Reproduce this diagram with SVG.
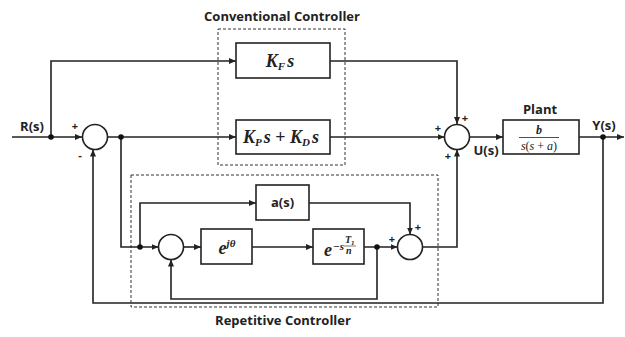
<svg xmlns="http://www.w3.org/2000/svg" width="625" height="337" viewBox="0 0 625 337">
<defs>
<marker id="ah" markerWidth="7" markerHeight="6" refX="7" refY="3" orient="auto" markerUnits="userSpaceOnUse">
<path d="M0,0 L7,3 L0,6 Z" fill="#222"/>
</marker>
<style>
.ln{fill:none;stroke:#222;stroke-width:1.6}
.bx{fill:#fff;stroke:#222;stroke-width:1.6}
.dash{fill:none;stroke:#333;stroke-width:1;stroke-dasharray:3,2}
.lbl{font-family:"Open Sans","Liberation Sans",sans-serif;font-weight:bold;font-size:13px;fill:#222}
.sg{font-family:"Open Sans","Liberation Sans",sans-serif;font-weight:bold;font-size:11px;fill:#222}
.m{font-family:"Liberation Serif","DejaVu Serif",serif;font-style:italic;font-weight:bold;fill:#222}
.mr{font-family:"Liberation Serif","DejaVu Serif",serif;fill:#222}
.dot{fill:#111}
</style>
</defs>

<g id="groups">
<rect class="dash" x="218" y="29" width="127" height="136"/>
<text class="lbl" x="282" y="21" text-anchor="middle">Conventional Controller</text>
<rect class="dash" x="131" y="175" width="307" height="132"/>
<text class="lbl" x="283" y="325" text-anchor="middle">Repetitive Controller</text>
</g>

<g id="connectors">
<polyline class="ln" points="12,137 82,137" marker-end="url(#ah)"/>
<polyline class="ln" points="51,137 51,61 236,61" marker-end="url(#ah)"/>
<polyline class="ln" points="107.5,137 236,137" marker-end="url(#ah)"/>
<polyline class="ln" points="330,61 457,61 457,124" marker-end="url(#ah)"/>
<polyline class="ln" points="330,137 444.5,137" marker-end="url(#ah)"/>
<polyline class="ln" points="469.5,137 503,137" marker-end="url(#ah)"/>
<polyline class="ln" points="579,137 624,137" marker-end="url(#ah)"/>
<polyline class="ln" points="603,137 603,303 93,303 93,149.5" marker-end="url(#ah)"/>
<polyline class="ln" points="121,137 121,247 158.5,247" marker-end="url(#ah)"/>
<polyline class="ln" points="140,247 140,203 256,203" marker-end="url(#ah)"/>
<polyline class="ln" points="183.5,247 201,247" marker-end="url(#ah)"/>
<polyline class="ln" points="252,247 313,247" marker-end="url(#ah)"/>
<polyline class="ln" points="364,247 397.5,247" marker-end="url(#ah)"/>
<polyline class="ln" points="309,203 410,203 410,234.5" marker-end="url(#ah)"/>
<polyline class="ln" points="377,247 377,299 171,299 171,259.5" marker-end="url(#ah)"/>
<polyline class="ln" points="422.5,247 457,247 457,149.5" marker-end="url(#ah)"/>
<circle class="dot" cx="51" cy="137" r="2.8"/>
<circle class="dot" cx="121" cy="137" r="2.8"/>
<circle class="dot" cx="603" cy="137" r="2.8"/>
<circle class="dot" cx="140" cy="247" r="2.8"/>
<circle class="dot" cx="377" cy="247" r="2.8"/>
</g>

<g id="sum1">
<circle class="bx" cx="95" cy="137" r="12.5"/>
<text class="sg" x="75" y="130" text-anchor="middle">+</text>
<text class="sg" x="80" y="159" text-anchor="middle">-</text>
</g>
<g id="sum2">
<circle class="bx" cx="457" cy="137" r="12.5"/>
<text class="sg" x="465" y="122" text-anchor="middle">+</text>
<text class="sg" x="438" y="132" text-anchor="middle">+</text>
<text class="sg" x="448" y="160" text-anchor="middle">+</text>
</g>
<g id="sum3">
<circle class="bx" cx="410" cy="247" r="12.5"/>
<text class="sg" x="392" y="243" text-anchor="middle">+</text>
<text class="sg" x="418" y="231" text-anchor="middle">+</text>
</g>
<g id="sum4">
<circle class="bx" cx="171" cy="247" r="12.5"/>
</g>

<g id="kf">
<rect class="bx" x="236" y="43" width="94" height="35"/>
<text class="m" x="280" y="67" text-anchor="middle" font-size="18">K<tspan font-size="11" dy="3">F</tspan><tspan dy="-3" dx="2">s</tspan></text>
</g>
<g id="kpkd">
<rect class="bx" x="236" y="120" width="94" height="34"/>
<text class="m" x="281" y="143" text-anchor="middle" font-size="18">K<tspan font-size="11" dy="3">P</tspan><tspan dy="-3" dx="2">s </tspan><tspan font-style="normal">+</tspan> K<tspan font-size="11" dy="3">D</tspan><tspan dy="-3" dx="2">s</tspan></text>
</g>
<g id="plant">
<rect class="bx" x="503" y="120" width="76" height="34"/>
<text class="lbl" x="540" y="114" text-anchor="middle">Plant</text>
<text class="m" x="539" y="134" text-anchor="middle" font-size="12">b</text>
<line x1="519" y1="137.5" x2="559" y2="137.5" stroke="#222" stroke-width="0.8"/>
<text class="mr" x="539" y="150" text-anchor="middle" font-size="12"><tspan font-style="italic">s</tspan>(<tspan font-style="italic">s</tspan> + <tspan font-style="italic">a</tspan>)</text>
</g>
<g id="as">
<rect class="bx" x="256" y="185" width="53" height="35"/>
<text class="lbl" x="282.5" y="207" text-anchor="middle" font-weight="600">a(s)</text>
</g>
<g id="ejt">
<rect class="bx" x="201" y="229" width="51" height="35"/>
<text class="m" x="227" y="254" text-anchor="middle" font-size="18">e<tspan font-size="11" dy="-7">jθ</tspan></text>
</g>
<g id="edelay">
<rect class="bx" x="313" y="229" width="51" height="35"/>
<text class="m" x="324" y="256" font-size="18">e</text>
<text class="m" x="333" y="250" font-size="11">−s</text>
<text class="m" x="345" y="243" font-size="10">T<tspan font-size="7" dy="2">1</tspan></text>
<line x1="344" y1="246" x2="356" y2="246" stroke="#222" stroke-width="0.6"/>
<text class="m" x="346" y="254" font-size="10">n</text>
</g>

<g id="labels">
<text class="lbl" x="32" y="131" text-anchor="middle">R(s)</text>
<text class="lbl" x="486" y="155" text-anchor="middle">U(s)</text>
<text class="lbl" x="604" y="130" text-anchor="middle">Y(s)</text>
</g>
</svg>
